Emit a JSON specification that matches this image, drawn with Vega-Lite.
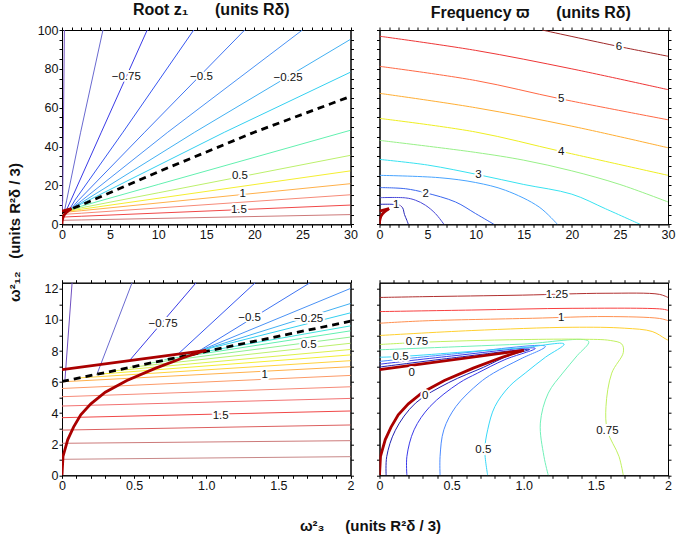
{
"$schema": "https://vega.github.io/schema/vega-lite/v6.json",
"padding": {"left": 6, "top": 1, "right": 0, "bottom": 0},
"config": {
 "font": "Liberation Sans",
 "view": {"stroke": "black", "strokeWidth": 1},
 "axis": {"domainColor": "black", "tickColor": "black", "tickSize": 3, "labelFont": "Liberation Sans", "labelFontSize": 12.5, "labelColor": "#111", "labelPadding": 1.5, "grid": false, "labelFlush": false, "labelOverlap": false, "titleFont": "Liberation Sans", "titleFontSize": 15, "titleFontWeight": "bold", "titleColor": "#111"},
 "title": {"font": "Liberation Sans", "fontSize": 16, "fontWeight": "bold", "color": "#111"}
},
"datasets": {
 "z1": [
  {"l":"-1","o":0,"x":0.02,"y":6.08},{"l":"-1","o":1,"x":0.07,"y":12.4},{"l":"-1","o":2,"x":0.25,"y":100},
  {"l":"-0.875","o":0,"x":0.24,"y":6.45},{"l":"-0.875","o":1,"x":0.486,"y":12.4},{"l":"-0.875","o":2,"x":1.94,"y":47.4},{"l":"-0.875","o":3,"x":4.26,"y":100},
  {"l":"-0.75","o":0,"x":0.47,"y":7.41},{"l":"-0.75","o":1,"x":0.93,"y":12.4},{"l":"-0.75","o":2,"x":4.09,"y":47.4},{"l":"-0.75","o":3,"x":8.86,"y":100},
  {"l":"-0.625","o":0,"x":0.81,"y":7.85},{"l":"-0.625","o":1,"x":1.34,"y":12.4},{"l":"-0.625","o":2,"x":6.34,"y":47.4},{"l":"-0.625","o":3,"x":13.7,"y":100},
  {"l":"-0.5","o":0,"x":0.94,"y":7.95},{"l":"-0.5","o":1,"x":1.72,"y":12.4},{"l":"-0.5","o":2,"x":8.6,"y":47.4},{"l":"-0.5","o":3,"x":19.0,"y":100},
  {"l":"-0.375","o":0,"x":0.95,"y":8.0},{"l":"-0.375","o":1,"x":2.0,"y":12.03},{"l":"-0.375","o":2,"x":11.0,"y":47.4},{"l":"-0.375","o":3,"x":25.0,"y":100},
  {"l":"-0.25","o":0,"x":0.95,"y":8.0},{"l":"-0.25","o":1,"x":2.0,"y":11.06},{"l":"-0.25","o":2,"x":13.8,"y":47.4},{"l":"-0.25","o":3,"x":30,"y":95.2},
  {"l":"-0.125","o":0,"x":0.95,"y":8.0},{"l":"-0.125","o":1,"x":2.0,"y":10.46},{"l":"-0.125","o":2,"x":16.9,"y":47.4},{"l":"-0.125","o":3,"x":30,"y":78.3},
  {"l":"0.125","o":0,"x":0.83,"y":7.7},{"l":"0.125","o":1,"x":2.0,"y":9.62},{"l":"0.125","o":2,"x":3.0,"y":11.2},
  {"l":"0.25","o":0,"x":0.71,"y":7.45},{"l":"0.25","o":1,"x":2.0,"y":9.3},{"l":"0.25","o":2,"x":10,"y":20.5},{"l":"0.25","o":3,"x":30,"y":48.4},
  {"l":"0.375","o":0,"x":0.59,"y":7.2},{"l":"0.375","o":1,"x":2.0,"y":8.9},{"l":"0.375","o":2,"x":3.0,"y":10.1},
  {"l":"0.5","o":0,"x":0.47,"y":6.95},{"l":"0.5","o":1,"x":2.0,"y":8.5},{"l":"0.5","o":2,"x":10,"y":16.2},{"l":"0.5","o":3,"x":30,"y":35.5},
  {"l":"0.625","o":0,"x":0.35,"y":6.72},{"l":"0.625","o":1,"x":2.0,"y":8.1},{"l":"0.625","o":2,"x":3.0,"y":8.9},
  {"l":"0.75","o":0,"x":0.24,"y":6.5},{"l":"0.75","o":1,"x":2.0,"y":7.75},{"l":"0.75","o":2,"x":30,"y":27.5},
  {"l":"0.875","o":0,"x":0.12,"y":6.27},{"l":"0.875","o":1,"x":2.0,"y":7.38},{"l":"0.875","o":2,"x":3.0,"y":7.95},
  {"l":"1","o":0,"x":0,"y":6.02},{"l":"1","o":1,"x":2.0,"y":6.99},{"l":"1","o":2,"x":30,"y":20.9},
  {"l":"1.125","o":0,"x":0,"y":5.59},{"l":"1.125","o":1,"x":2.0,"y":6.43},{"l":"1.125","o":2,"x":3,"y":6.85},
  {"l":"1.25","o":0,"x":0,"y":5.06},{"l":"1.25","o":1,"x":2.0,"y":5.7},{"l":"1.25","o":2,"x":30,"y":15.2},
  {"l":"1.375","o":0,"x":0,"y":4.46},{"l":"1.375","o":1,"x":2.0,"y":4.95},{"l":"1.375","o":2,"x":3,"y":5.2},
  {"l":"1.5","o":0,"x":0,"y":3.71},{"l":"1.5","o":1,"x":2.0,"y":4.14},{"l":"1.5","o":2,"x":30,"y":9.9},
  {"l":"1.625","o":0,"x":0,"y":2.91},{"l":"1.625","o":1,"x":2.0,"y":3.24},{"l":"1.625","o":2,"x":3,"y":3.4},
  {"l":"1.75","o":0,"x":0,"y":2.06},{"l":"1.75","o":1,"x":2.0,"y":2.23},{"l":"1.75","o":2,"x":30,"y":5.0},
  {"l":"1.875","o":0,"x":0,"y":1.03},{"l":"1.875","o":1,"x":2.0,"y":1.2},{"l":"1.875","o":2,"x":3,"y":1.3}
 ],
 "dash": [
  {"o":0,"x":0,"y":6.04},{"o":1,"x":0.5,"y":7.0},{"o":2,"x":1,"y":7.98},{"o":3,"x":2,"y":9.92},{"o":4,"x":10,"y":27.0},{"o":5,"x":20,"y":47.4},{"o":6,"x":30,"y":65.8}
 ],
 "red": [
  {"i":"lo","o":0,"x":0,"y":0},{"i":"lo","o":1,"x":0.007,"y":1.22},{"i":"lo","o":2,"x":0.04,"y":2.3},{"i":"lo","o":3,"x":0.08,"y":3.1},{"i":"lo","o":4,"x":0.13,"y":3.9},{"i":"lo","o":5,"x":0.2,"y":4.6},{"i":"lo","o":6,"x":0.3,"y":5.35},{"i":"lo","o":7,"x":0.45,"y":6.1},{"i":"lo","o":8,"x":0.65,"y":6.9},{"i":"lo","o":9,"x":0.85,"y":7.6},{"i":"lo","o":10,"x":1.0,"y":8.05},
  {"i":"up","o":0,"x":0,"y":6.8},{"i":"up","o":1,"x":1.0,"y":8.05}
 ],
 "fT": [
  {"l":"1","o":0,"x":0,"y":10.3},{"l":"1","o":1,"x":1.2,"y":10.3},{"l":"1","o":2,"x":2.0,"y":10.0},{"l":"1","o":3,"x":2.4,"y":8.5},{"l":"1","o":4,"x":2.6,"y":5.0},{"l":"1","o":5,"x":2.85,"y":2.0},{"l":"1","o":6,"x":3.0,"y":0},
  {"l":"1.5","o":0,"x":0,"y":13.7},{"l":"1.5","o":1,"x":2.7,"y":13.6},{"l":"1.5","o":2,"x":3.74,"y":12.4},{"l":"1.5","o":3,"x":4.78,"y":9.8},{"l":"1.5","o":4,"x":5.82,"y":5.5},{"l":"1.5","o":5,"x":6.7,"y":0},
  {"l":"2","o":0,"x":0,"y":18.9},{"l":"2","o":1,"x":2.7,"y":18.3},{"l":"2","o":2,"x":4.8,"y":16.2},{"l":"2","o":3,"x":7.9,"y":11.5},{"l":"2","o":4,"x":10.0,"y":5.5},{"l":"2","o":5,"x":11.9,"y":0},
  {"l":"2.5","o":0,"x":0,"y":25.2},{"l":"2.5","o":1,"x":6.2,"y":24.0},{"l":"2.5","o":2,"x":10,"y":21.5},{"l":"2.5","o":3,"x":13.1,"y":17.5},{"l":"2.5","o":4,"x":16.6,"y":8.9},{"l":"2.5","o":5,"x":18.5,"y":0},
  {"l":"3","o":0,"x":0,"y":33.4},{"l":"3","o":1,"x":5,"y":30.5},{"l":"3","o":2,"x":10.3,"y":25.5},{"l":"3","o":3,"x":15,"y":20.5},{"l":"3","o":4,"x":20,"y":15.5},{"l":"3","o":5,"x":23.5,"y":8},{"l":"3","o":6,"x":27.1,"y":0},
  {"l":"3.5","o":0,"x":0,"y":43.2},{"l":"3.5","o":1,"x":10,"y":37},{"l":"3.5","o":2,"x":15,"y":33},{"l":"3.5","o":3,"x":20,"y":27.5},{"l":"3.5","o":4,"x":25,"y":20.5},{"l":"3.5","o":5,"x":30,"y":11.5},
  {"l":"4","o":0,"x":0,"y":54.5},{"l":"4","o":1,"x":10,"y":47.5},{"l":"4","o":2,"x":18.9,"y":37.5},{"l":"4","o":3,"x":30,"y":25.2},
  {"l":"4.5","o":0,"x":0,"y":67.4},{"l":"4.5","o":1,"x":10,"y":60},{"l":"4.5","o":2,"x":20,"y":50.5},{"l":"4.5","o":3,"x":30,"y":39.4},
  {"l":"5","o":0,"x":0,"y":81.3},{"l":"5","o":1,"x":10,"y":74},{"l":"5","o":2,"x":18.9,"y":64.5},{"l":"5","o":3,"x":30,"y":53.8},
  {"l":"5.5","o":0,"x":0,"y":96.8},{"l":"5.5","o":1,"x":10,"y":89.5},{"l":"5.5","o":2,"x":20,"y":80},{"l":"5.5","o":3,"x":30,"y":69.3},
  {"l":"6","o":0,"x":16.9,"y":100},{"l":"6","o":1,"x":24.9,"y":91.5},{"l":"6","o":2,"x":30,"y":86.5}
 ],
 "fB": [
  {"l":"0.125","o":0,"x":0,"y":6.97},{"l":"0.125","o":1,"x":0.5,"y":7.55},{"l":"0.125","o":2,"x":1.04,"y":8.1},{"l":"0.125","o":3,"x":0.9,"y":7.72},{"l":"0.125","o":4,"x":0.72,"y":6.95},{"l":"0.125","o":5,"x":0.48,"y":5.97},{"l":"0.125","o":6,"x":0.25,"y":4.65},{"l":"0.125","o":7,"x":0.11,"y":2.9},{"l":"0.125","o":8,"x":0.05,"y":1.2},{"l":"0.125","o":9,"x":0.046,"y":0},
  {"l":"0.25","o":0,"x":0,"y":7.15},{"l":"0.25","o":1,"x":0.5,"y":7.68},{"l":"0.25","o":2,"x":1.08,"y":8.17},{"l":"0.25","o":3,"x":0.87,"y":7.45},{"l":"0.25","o":4,"x":0.68,"y":6.58},{"l":"0.25","o":5,"x":0.55,"y":5.93},{"l":"0.25","o":6,"x":0.35,"y":4.43},{"l":"0.25","o":7,"x":0.24,"y":2.93},{"l":"0.25","o":8,"x":0.19,"y":1.22},{"l":"0.25","o":9,"x":0.19,"y":0},
  {"l":"0.375","o":0,"x":0,"y":7.33},{"l":"0.375","o":1,"x":0.5,"y":7.8},{"l":"0.375","o":2,"x":1.15,"y":8.3},{"l":"0.375","o":3,"x":0.98,"y":7.5},{"l":"0.375","o":4,"x":0.79,"y":6.58},{"l":"0.375","o":5,"x":0.69,"y":5.93},{"l":"0.375","o":6,"x":0.53,"y":4.43},{"l":"0.375","o":7,"x":0.446,"y":2.93},{"l":"0.375","o":8,"x":0.42,"y":1.22},{"l":"0.375","o":9,"x":0.42,"y":0},
  {"l":"0.5","o":0,"x":0,"y":7.6},{"l":"0.5","o":1,"x":0.15,"y":7.65},{"l":"0.5","o":2,"x":0.6,"y":7.95},{"l":"0.5","o":3,"x":1.0,"y":8.22},{"l":"0.5","o":4,"x":1.28,"y":8.45},{"l":"0.5","o":5,"x":1.15,"y":7.6},{"l":"0.5","o":6,"x":1.01,"y":6.58},{"l":"0.5","o":7,"x":0.9,"y":5.72},{"l":"0.5","o":8,"x":0.8,"y":4.43},{"l":"0.5","o":9,"x":0.75,"y":2.93},{"l":"0.5","o":10,"x":0.73,"y":1.6},{"l":"0.5","o":11,"x":0.75,"y":0},
  {"l":"0.625","o":0,"x":0,"y":8.08},{"l":"0.625","o":1,"x":0.6,"y":8.3},{"l":"0.625","o":2,"x":1.0,"y":8.45},{"l":"0.625","o":3,"x":1.45,"y":8.62},{"l":"0.625","o":4,"x":1.37,"y":7.7},{"l":"0.625","o":5,"x":1.27,"y":6.58},{"l":"0.625","o":6,"x":1.17,"y":5.29},{"l":"0.625","o":7,"x":1.115,"y":3.36},{"l":"0.625","o":8,"x":1.14,"y":1.22},{"l":"0.625","o":9,"x":1.17,"y":0},
  {"l":"0.75","o":0,"x":0,"y":8.42},{"l":"0.75","o":1,"x":0.26,"y":8.55},{"l":"0.75","o":2,"x":0.6,"y":8.66},{"l":"0.75","o":3,"x":1.0,"y":8.74},{"l":"0.75","o":4,"x":1.4,"y":8.76},{"l":"0.75","o":5,"x":1.6,"y":8.68},{"l":"0.75","o":6,"x":1.68,"y":8.45},{"l":"0.75","o":7,"x":1.69,"y":7.9},{"l":"0.75","o":8,"x":1.61,"y":6.58},{"l":"0.75","o":9,"x":1.57,"y":4.43},{"l":"0.75","o":10,"x":1.58,"y":2.87},{"l":"0.75","o":11,"x":1.66,"y":1.22},{"l":"0.75","o":12,"x":1.69,"y":0},
  {"l":"0.875","o":0,"x":0,"y":9.0},{"l":"0.875","o":1,"x":0.64,"y":9.32},{"l":"0.875","o":2,"x":1.335,"y":9.53},{"l":"0.875","o":3,"x":1.7,"y":9.47},{"l":"0.875","o":4,"x":1.89,"y":9.26},{"l":"0.875","o":5,"x":1.98,"y":8.8},{"l":"0.875","o":6,"x":2.0,"y":8.7},
  {"l":"1","o":0,"x":0,"y":9.79},{"l":"1","o":1,"x":0.3,"y":9.94},{"l":"1","o":2,"x":1.06,"y":10.11},{"l":"1","o":3,"x":1.57,"y":10.22},{"l":"1","o":4,"x":1.94,"y":10.1},{"l":"1","o":5,"x":2.0,"y":9.96},
  {"l":"1.125","o":0,"x":0,"y":10.54},{"l":"1.125","o":1,"x":0.64,"y":10.64},{"l":"1.125","o":2,"x":1.335,"y":10.75},{"l":"1.125","o":3,"x":1.96,"y":10.7},{"l":"1.125","o":4,"x":2.0,"y":10.62},
  {"l":"1.25","o":0,"x":0,"y":11.45},{"l":"1.25","o":1,"x":0.3,"y":11.5},{"l":"1.25","o":2,"x":0.99,"y":11.6},{"l":"1.25","o":3,"x":1.57,"y":11.72},{"l":"1.25","o":4,"x":1.94,"y":11.65},{"l":"1.25","o":5,"x":2.0,"y":11.45}
 ],
 "lab": [
  {"p":"TL","x":6.68,"y":75.9,"t":"−0.75"},{"p":"TL","x":14.5,"y":75.9,"t":"−0.5"},{"p":"TL","x":23.5,"y":75.2,"t":"−0.25"},{"p":"TL","x":18.5,"y":24.7,"t":"0.5"},{"p":"TL","x":18.8,"y":15.8,"t":"1"},{"p":"TL","x":18.4,"y":7.4,"t":"1.5"},
  {"p":"TR","x":24.9,"y":91.1,"t":"6"},{"p":"TR","x":18.9,"y":64.5,"t":"5"},{"p":"TR","x":18.9,"y":37.2,"t":"4"},{"p":"TR","x":10.3,"y":25.2,"t":"3"},{"p":"TR","x":4.8,"y":15.8,"t":"2"},{"p":"TR","x":1.74,"y":10.1,"t":"1"},
  {"p":"BL","x":0.7,"y":9.77,"t":"−0.75"},{"p":"BL","x":1.3,"y":10.1,"t":"−0.5"},{"p":"BL","x":1.71,"y":10.05,"t":"−0.25"},{"p":"BL","x":1.71,"y":8.38,"t":"0.5"},{"p":"BL","x":1.405,"y":6.45,"t":"1"},{"p":"BL","x":1.1,"y":3.85,"t":"1.5"},
  {"p":"BR","x":1.23,"y":11.62,"t":"1.25"},{"p":"BR","x":1.26,"y":10.1,"t":"1"},{"p":"BR","x":0.26,"y":8.58,"t":"0.75"},{"p":"BR","x":0.146,"y":7.59,"t":"0.5"},{"p":"BR","x":0.224,"y":6.57,"t":"0"},{"p":"BR","x":0.317,"y":5.1,"t":"0"},{"p":"BR","x":0.72,"y":1.6,"t":"0.5"},{"p":"BR","x":1.58,"y":2.87,"t":"0.75"}
 ]
},
"concat": [
 {
  "width": 288.5, "height": 194.3,
  "title": {"text": "Root z₁\u00a0\u00a0\u00a0\u00a0\u00a0\u00a0(units Rδ)", "anchor": "middle", "dx": 5, "offset": 6},
  "layer": [
   {"data": {"name": "z1"},
    "transform": [{"filter": "indexof(['0.125','0.375','0.625','0.875','1.125','1.375','1.625','1.875'], datum.l) < 0"}],
    "mark": {"type": "line", "clip": true, "strokeWidth": 1},
    "encoding": {
     "x": {"field": "x", "type": "quantitative", "scale": {"domain": [0, 30], "nice": false, "zero": false},
           "axis": {"orient": "bottom", "values": [0,1,2,3,4,5,6,7,8,9,10,11,12,13,14,15,16,17,18,19,20,21,22,23,24,25,26,27,28,29,30], "labelExpr": "datum.value % 5 === 0 ? datum.label : ''", "title": null}},
     "y": {"field": "y", "type": "quantitative", "scale": {"domain": [0, 100], "nice": false, "zero": false},
           "axis": {"orient": "left", "values": [0,5,10,15,20,25,30,35,40,45,50,55,60,65,70,75,80,85,90,95,100], "labelExpr": "datum.value % 20 === 0 ? datum.label : ''", "labelPadding": 1,
                    "title": "ω²₁₂\u00a0\u00a0\u00a0(units R²δ / 3)", "titleX": -48, "titleY": 202, "titleAngle": -90, "titleAlign": "center", "titleBaseline": "middle"}},
     "color": {"field": "l", "type": "nominal", "legend": null,
               "scale": {"domain": ["-1","-0.875","-0.75","-0.625","-0.5","-0.375","-0.25","-0.125","0.125","0.25","0.375","0.5","0.625","0.75","0.875","1","1.125","1.25","1.375","1.5","1.625","1.75","1.875"],
                         "range": ["#7050c0","#6a6ad0","#3a3ae6","#3656f0","#3f74f2","#4a92f5","#42b0f2","#34d0f0","#40e4dc","#62f0b0","#90f090","#bcf06c","#dcf04c","#f4ee30","#ffd23c","#ffb04a","#fc9a68","#f68a78","#f27272","#f04848","#dc6060","#cc7a7a","#c88888"]}},
     "order": {"field": "o"}
    }},
   {"data": {"name": "dash"},
    "mark": {"type": "line", "clip": true, "color": "black", "strokeWidth": 2.8, "strokeDash": [7, 5]},
    "encoding": {"x": {"field": "x", "type": "quantitative", "scale": {"domain": [0, 30], "nice": false, "zero": false}, "axis": null},
                 "y": {"field": "y", "type": "quantitative", "scale": {"domain": [0, 100], "nice": false, "zero": false}, "axis": null},
                 "order": {"field": "o"}}},
   {"data": {"name": "red"},
    "mark": {"type": "line", "clip": true, "color": "#aa0000", "strokeWidth": 2.8},
    "encoding": {"x": {"field": "x", "type": "quantitative", "scale": {"domain": [0, 30], "nice": false, "zero": false},
                       "axis": {"orient": "top", "values": [0,1,2,3,4,5,6,7,8,9,10,11,12,13,14,15,16,17,18,19,20,21,22,23,24,25,26,27,28,29,30], "labels": false, "title": null}},
                 "y": {"field": "y", "type": "quantitative", "scale": {"domain": [0, 100], "nice": false, "zero": false},
                       "axis": {"orient": "right", "values": [0,5,10,15,20,25,30,35,40,45,50,55,60,65,70,75,80,85,90,95,100], "labels": false, "title": null}},
                 "detail": {"field": "i"}, "order": {"field": "o"}}},
   {"data": {"name": "lab"}, "transform": [{"filter": "datum.p === 'TL'"}],
    "mark": {"type": "text", "fontSize": 11.5, "fill": "white", "stroke": "white", "strokeWidth": 4, "strokeJoin": "round"},
    "encoding": {"x": {"field": "x", "type": "quantitative", "scale": {"domain": [0, 30], "nice": false, "zero": false}, "axis": null},
                 "y": {"field": "y", "type": "quantitative", "scale": {"domain": [0, 100], "nice": false, "zero": false}, "axis": null},
                 "text": {"field": "t"}}},
   {"data": {"name": "lab"}, "transform": [{"filter": "datum.p === 'TL'"}],
    "mark": {"type": "text", "fontSize": 11.5, "fill": "#111"},
    "encoding": {"x": {"field": "x", "type": "quantitative", "scale": {"domain": [0, 30], "nice": false, "zero": false}, "axis": null},
                 "y": {"field": "y", "type": "quantitative", "scale": {"domain": [0, 100], "nice": false, "zero": false}, "axis": null},
                 "text": {"field": "t"}}}
  ],
  "resolve": {"axis": {"x": "independent", "y": "independent"}}
 },
 {
  "width": 288.5, "height": 194.3,
  "title": {"text": "Frequency ϖ\u00a0\u00a0\u00a0\u00a0\u00a0\u00a0(units Rδ)", "anchor": "middle", "dx": 7, "offset": 6},
  "layer": [
   {"data": {"name": "fT"},
    "mark": {"type": "line", "clip": true, "strokeWidth": 1, "interpolate": "catmull-rom"},
    "encoding": {
     "x": {"field": "x", "type": "quantitative", "scale": {"domain": [0, 30], "nice": false, "zero": false},
           "axis": {"orient": "bottom", "values": [0,1,2,3,4,5,6,7,8,9,10,11,12,13,14,15,16,17,18,19,20,21,22,23,24,25,26,27,28,29,30], "labelExpr": "datum.value % 5 === 0 ? datum.label : ''", "title": null}},
     "y": {"field": "y", "type": "quantitative", "scale": {"domain": [0, 100], "nice": false, "zero": false},
           "axis": {"orient": "left", "values": [0,5,10,15,20,25,30,35,40,45,50,55,60,65,70,75,80,85,90,95,100], "labels": false, "title": null}},
     "color": {"field": "l", "type": "nominal", "legend": null,
               "scale": {"domain": ["1","1.5","2","2.5","3","3.5","4","4.5","5","5.5","6"],
                         "range": ["#2828b8","#4848d8","#3a66ee","#48a4ff","#38e2f0","#98f088","#eeee22","#ffae34","#ff6844","#ee3636","#a02828"]}},
     "order": {"field": "o"}
    }},
   {"data": {"name": "red"},
    "mark": {"type": "line", "clip": true, "color": "#aa0000", "strokeWidth": 2.8},
    "encoding": {"x": {"field": "x", "type": "quantitative", "scale": {"domain": [0, 30], "nice": false, "zero": false},
                       "axis": {"orient": "top", "values": [0,1,2,3,4,5,6,7,8,9,10,11,12,13,14,15,16,17,18,19,20,21,22,23,24,25,26,27,28,29,30], "labels": false, "title": null}},
                 "y": {"field": "y", "type": "quantitative", "scale": {"domain": [0, 100], "nice": false, "zero": false},
                       "axis": {"orient": "right", "values": [0,5,10,15,20,25,30,35,40,45,50,55,60,65,70,75,80,85,90,95,100], "labels": false, "title": null}},
                 "detail": {"field": "i"}, "order": {"field": "o"}}},
   {"data": {"name": "lab"}, "transform": [{"filter": "datum.p === 'TR'"}],
    "mark": {"type": "text", "fontSize": 11.5, "fill": "white", "stroke": "white", "strokeWidth": 4, "strokeJoin": "round"},
    "encoding": {"x": {"field": "x", "type": "quantitative", "scale": {"domain": [0, 30], "nice": false, "zero": false}, "axis": null},
                 "y": {"field": "y", "type": "quantitative", "scale": {"domain": [0, 100], "nice": false, "zero": false}, "axis": null},
                 "text": {"field": "t"}}},
   {"data": {"name": "lab"}, "transform": [{"filter": "datum.p === 'TR'"}],
    "mark": {"type": "text", "fontSize": 11.5, "fill": "#111"},
    "encoding": {"x": {"field": "x", "type": "quantitative", "scale": {"domain": [0, 30], "nice": false, "zero": false}, "axis": null},
                 "y": {"field": "y", "type": "quantitative", "scale": {"domain": [0, 100], "nice": false, "zero": false}, "axis": null},
                 "text": {"field": "t"}}}
  ],
  "resolve": {"axis": {"x": "independent", "y": "independent"}}
 },
 {
  "width": 288.5, "height": 192.6,
  "layer": [
   {"data": {"name": "z1"},
    "mark": {"type": "line", "clip": true, "strokeWidth": 1},
    "encoding": {
     "x": {"field": "x", "type": "quantitative", "scale": {"domain": [0, 2], "nice": false, "zero": false},
           "axis": {"orient": "bottom", "values": [0,0.1,0.2,0.3,0.4,0.5,0.6,0.7,0.8,0.9,1,1.1,1.2,1.3,1.4,1.5,1.6,1.7,1.8,1.9,2], "labelExpr": "datum.value === 0 ? '0' : datum.value === 0.5 ? '0.5' : datum.value === 1 ? '1.0' : datum.value === 1.5 ? '1.5' : datum.value === 2 ? '2' : ''",
                    "title": "ω²₃\u00a0\u00a0\u00a0\u00a0\u00a0(units R²δ / 3)", "titleX": 308, "titleY": 50, "titleAngle": 0, "titleAlign": "center", "titleBaseline": "middle"}},
     "y": {"field": "y", "type": "quantitative", "scale": {"domain": [0, 12.4], "nice": false, "zero": false},
           "axis": {"orient": "left", "values": [0,1,2,3,4,5,6,7,8,9,10,11,12], "labelExpr": "datum.value % 2 === 0 ? datum.label : ''", "labelPadding": 1, "title": null}},
     "color": {"field": "l", "type": "nominal", "legend": null,
               "scale": {"domain": ["-1","-0.875","-0.75","-0.625","-0.5","-0.375","-0.25","-0.125","0.125","0.25","0.375","0.5","0.625","0.75","0.875","1","1.125","1.25","1.375","1.5","1.625","1.75","1.875"],
                         "range": ["#7050c0","#6a6ad0","#3a3ae6","#3656f0","#3f74f2","#4a92f5","#42b0f2","#34d0f0","#40e4dc","#62f0b0","#90f090","#bcf06c","#dcf04c","#f4ee30","#ffd23c","#ffb04a","#fc9a68","#f68a78","#f27272","#f04848","#dc6060","#cc7a7a","#c88888"]}},
     "order": {"field": "o"}
    }},
   {"data": {"name": "dash"},
    "mark": {"type": "line", "clip": true, "color": "black", "strokeWidth": 2.8, "strokeDash": [7, 5]},
    "encoding": {"x": {"field": "x", "type": "quantitative", "scale": {"domain": [0, 2], "nice": false, "zero": false}, "axis": null},
                 "y": {"field": "y", "type": "quantitative", "scale": {"domain": [0, 12.4], "nice": false, "zero": false}, "axis": null},
                 "order": {"field": "o"}}},
   {"data": {"name": "red"},
    "mark": {"type": "line", "clip": true, "color": "#aa0000", "strokeWidth": 2.8},
    "encoding": {"x": {"field": "x", "type": "quantitative", "scale": {"domain": [0, 2], "nice": false, "zero": false},
                       "axis": {"orient": "top", "values": [0,0.1,0.2,0.3,0.4,0.5,0.6,0.7,0.8,0.9,1,1.1,1.2,1.3,1.4,1.5,1.6,1.7,1.8,1.9,2], "labels": false, "title": null}},
                 "y": {"field": "y", "type": "quantitative", "scale": {"domain": [0, 12.4], "nice": false, "zero": false},
                       "axis": {"orient": "right", "values": [0,1,2,3,4,5,6,7,8,9,10,11,12], "labels": false, "title": null}},
                 "detail": {"field": "i"}, "order": {"field": "o"}}},
   {"data": {"name": "lab"}, "transform": [{"filter": "datum.p === 'BL'"}],
    "mark": {"type": "text", "fontSize": 11.5, "fill": "white", "stroke": "white", "strokeWidth": 4, "strokeJoin": "round"},
    "encoding": {"x": {"field": "x", "type": "quantitative", "scale": {"domain": [0, 2], "nice": false, "zero": false}, "axis": null},
                 "y": {"field": "y", "type": "quantitative", "scale": {"domain": [0, 12.4], "nice": false, "zero": false}, "axis": null},
                 "text": {"field": "t"}}},
   {"data": {"name": "lab"}, "transform": [{"filter": "datum.p === 'BL'"}],
    "mark": {"type": "text", "fontSize": 11.5, "fill": "#111"},
    "encoding": {"x": {"field": "x", "type": "quantitative", "scale": {"domain": [0, 2], "nice": false, "zero": false}, "axis": null},
                 "y": {"field": "y", "type": "quantitative", "scale": {"domain": [0, 12.4], "nice": false, "zero": false}, "axis": null},
                 "text": {"field": "t"}}}
  ],
  "resolve": {"axis": {"x": "independent", "y": "independent"}}
 },
 {
  "width": 288.5, "height": 192.6,
  "layer": [
   {"data": {"name": "fB"},
    "mark": {"type": "line", "clip": true, "strokeWidth": 1, "interpolate": "catmull-rom"},
    "encoding": {
     "x": {"field": "x", "type": "quantitative", "scale": {"domain": [0, 2], "nice": false, "zero": false},
           "axis": {"orient": "bottom", "values": [0,0.1,0.2,0.3,0.4,0.5,0.6,0.7,0.8,0.9,1,1.1,1.2,1.3,1.4,1.5,1.6,1.7,1.8,1.9,2], "labelExpr": "datum.value === 0 ? '0' : datum.value === 0.5 ? '0.5' : datum.value === 1 ? '1.0' : datum.value === 1.5 ? '1.5' : datum.value === 2 ? '2' : ''", "title": null}},
     "y": {"field": "y", "type": "quantitative", "scale": {"domain": [0, 12.4], "nice": false, "zero": false},
           "axis": {"orient": "left", "values": [0,1,2,3,4,5,6,7,8,9,10,11,12], "labels": false, "title": null}},
     "color": {"field": "l", "type": "nominal", "legend": null,
               "scale": {"domain": ["0.125","0.25","0.375","0.5","0.625","0.75","0.875","1","1.125","1.25"],
                         "range": ["#2020b0","#3a3ae8","#4a8aff","#38d8f8","#70f0b8","#c0f060","#ffd030","#ff9050","#f84040","#b03030"]}},
     "order": {"field": "o"}
    }},
   {"data": {"name": "red"},
    "mark": {"type": "line", "clip": true, "color": "#aa0000", "strokeWidth": 2.8},
    "encoding": {"x": {"field": "x", "type": "quantitative", "scale": {"domain": [0, 2], "nice": false, "zero": false},
                       "axis": {"orient": "top", "values": [0,0.1,0.2,0.3,0.4,0.5,0.6,0.7,0.8,0.9,1,1.1,1.2,1.3,1.4,1.5,1.6,1.7,1.8,1.9,2], "labels": false, "title": null}},
                 "y": {"field": "y", "type": "quantitative", "scale": {"domain": [0, 12.4], "nice": false, "zero": false},
                       "axis": {"orient": "right", "values": [0,1,2,3,4,5,6,7,8,9,10,11,12], "labels": false, "title": null}},
                 "detail": {"field": "i"}, "order": {"field": "o"}}},
   {"data": {"name": "lab"}, "transform": [{"filter": "datum.p === 'BR'"}],
    "mark": {"type": "text", "fontSize": 11.5, "fill": "white", "stroke": "white", "strokeWidth": 4, "strokeJoin": "round"},
    "encoding": {"x": {"field": "x", "type": "quantitative", "scale": {"domain": [0, 2], "nice": false, "zero": false}, "axis": null},
                 "y": {"field": "y", "type": "quantitative", "scale": {"domain": [0, 12.4], "nice": false, "zero": false}, "axis": null},
                 "text": {"field": "t"}}},
   {"data": {"name": "lab"}, "transform": [{"filter": "datum.p === 'BR'"}],
    "mark": {"type": "text", "fontSize": 11.5, "fill": "#111"},
    "encoding": {"x": {"field": "x", "type": "quantitative", "scale": {"domain": [0, 2], "nice": false, "zero": false}, "axis": null},
                 "y": {"field": "y", "type": "quantitative", "scale": {"domain": [0, 12.4], "nice": false, "zero": false}, "axis": null},
                 "text": {"field": "t"}}}
  ],
  "resolve": {"axis": {"x": "independent", "y": "independent"}}
 }
],
"columns": 2,
"spacing": {"row": 57.7, "column": 28.5},
"bounds": "flush",
"resolve": {"scale": {"color": "independent", "x": "independent", "y": "independent"}}
}
